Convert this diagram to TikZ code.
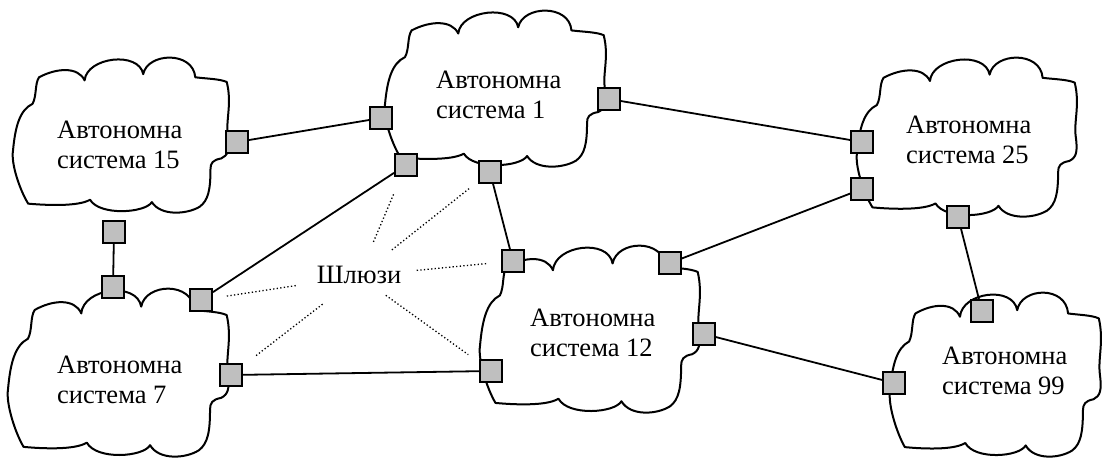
\documentclass[tikz,border=0pt]{standalone}
\usepackage{fontspec}
\setmainfont{Liberation Serif}
\begin{document}
\begin{tikzpicture}[x=1pt,y=-1pt,
  cloudline/.style={line width=2pt, line join=round},
  gw/.style={draw=black, fill=black!25, line width=1.8pt, minimum size=22pt, inner sep=0pt},
  link/.style={line width=1.8pt},
  dots/.style={line width=1.3pt, dash pattern=on 1.3pt off 2.3pt},
  lbl/.style={font=\fontsize{26.5}{29.5}\selectfont, align=left, inner sep=0pt}]
\useasboundingbox (0,0) rectangle (1103,459);
% clouds
\foreach \cx/\cy/\cw/\ch in {13/57/217/156, 385/10/222/157, 857/57/221/160, 8/288/222/169, 480/245/221/168, 890/292/212/165}{
  \begin{scope}[shift={(\cx,\cy)}, xscale=\cw, yscale=\ch]
    \draw[cloudline] (0.12,0.13)
      .. controls (0.2,0.07) and (0.3,0.06) .. (0.33,0.15)
      .. controls (0.34,0.0) and (0.58,-0.04) .. (0.60,0.11)
      .. controls (0.62,-0.03) and (0.83,-0.04) .. (0.84,0.13)
      .. controls (0.9,0.14) and (0.95,0.14) .. (0.985,0.16)
      .. controls (1.01,0.3) and (0.98,0.4) .. (0.99,0.5)
      .. controls (1.0,0.6) and (0.99,0.63) .. (0.96,0.65)
      .. controls (0.92,0.66) and (0.91,0.68) .. (0.91,0.72)
      .. controls (0.91,0.85) and (0.9,0.92) .. (0.86,0.96)
      .. controls (0.8,1.01) and (0.68,1.02) .. (0.64,0.93)
      .. controls (0.61,1.0) and (0.4,1.02) .. (0.355,0.915)
      .. controls (0.3,0.96) and (0.15,0.95) .. (0.07,0.94)
      .. controls (0.03,0.85) and (-0.01,0.68) .. (0.0,0.6)
      .. controls (0.01,0.45) and (0.03,0.34) .. (0.09,0.3)
      .. controls (0.11,0.25) and (0.1,0.17) .. (0.12,0.13) -- cycle;
  \end{scope}
}
% labels (base = baseline of the last line)
\node[lbl, anchor=base west] (t15) at (57,168) {Автономна\\система 15};
\node[lbl, anchor=base west] (t1) at (436,118) {Автономна\\система 1};
\node[lbl, anchor=base west] (t25) at (906,163) {Автономна\\система 25};
\node[lbl, anchor=base west] (t7) at (57,403) {Автономна\\система 7};
\node[lbl, anchor=base west] (t12) at (530,356) {Автономна\\система 12};
\node[lbl, anchor=base west] (t99) at (942,394) {Автономна\\система 99};
\node[lbl, anchor=base] (gwl) at (359,283) {Шлюзи};
% gateways
\node[gw] (q15r) at (237,142) {};
\node[gw] (q15b) at (114,232) {};
\node[gw] (q7t) at (113,287) {};
\node[gw] (q7ur) at (201,300) {};
\node[gw] (q7r) at (231,375) {};
\node[gw] (q1l) at (381,118) {};
\node[gw] (q1bl) at (406,165) {};
\node[gw] (q1b) at (490,172) {};
\node[gw] (q1r) at (609,99) {};
\node[gw] (q25l) at (862,142) {};
\node[gw] (q25ll) at (862,189) {};
\node[gw] (q25b) at (958,217) {};
\node[gw] (q12tl) at (513,261) {};
\node[gw] (q12tr) at (670,263) {};
\node[gw] (q12r) at (704,334) {};
\node[gw] (q12bl) at (491,371) {};
\node[gw] (q99t) at (982,311) {};
\node[gw] (q99l) at (894,383) {};
% links
\draw[link] (q15r) -- (q1l);
\draw[link] (q15b) -- (q7t);
\draw[link] (q7ur) -- (q1bl);
\draw[link] (q7r) -- (q12bl);
\draw[link] (q1b) -- (q12tl);
\draw[link] (q1r) -- (q25l);
\draw[link] (q12tr) -- (q25ll);
\draw[link] (q12r) -- (q99l);
\draw[link] (q25b) -- (q99t);
% dotted pointers
\coordinate (gc) at (359,276);
\draw[dots, shorten <=37pt, shorten >=30pt] (gc) -- (q1bl.center);
\draw[dots, shorten <=42pt, shorten >=25pt] (gc) -- (q1b.center);
\draw[dots, shorten <=58pt, shorten >=26pt] (gc) -- (q12tl.center);
\draw[dots, shorten <=64pt, shorten >=24pt] (gc) -- (q7ur.center);
\draw[dots, shorten <=46pt, shorten >=30pt] (gc) -- (q7r.center);
\draw[dots, shorten <=33pt, shorten >=28pt] (gc) -- (q12bl.center);
\end{tikzpicture}
\end{document}
